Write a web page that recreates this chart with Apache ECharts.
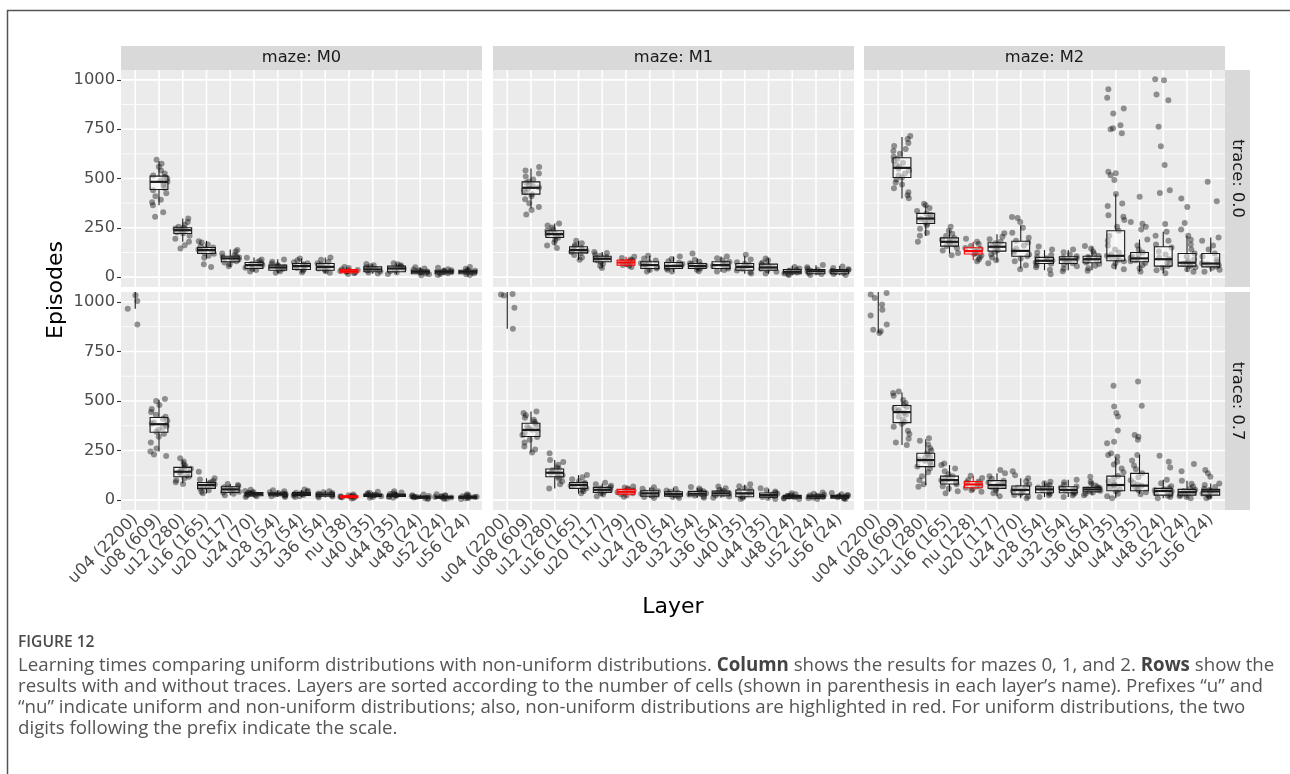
<!DOCTYPE html>
<html>
<head>
<meta charset="utf-8">
<title>Learning times by layer</title>
<script src="https://cdn.jsdelivr.net/npm/echarts@6.0.0/dist/echarts.min.js"></script>
<style>
  html, body { margin: 0; padding: 0; background: #ffffff; }
  #chart { width: 1290px; height: 774px; }
</style>
</head>
<body>
<div id="chart"></div>
<script>
// ---- category labels (layer name with number of cells) ----
const LAYERS_M0 = ['u04 (2200)', 'u08 (609)', 'u12 (280)', 'u16 (165)', 'u20 (117)', 'u24 (70)', 'u28 (54)', 'u32 (54)', 'u36 (54)', 'nu (38)', 'u40 (35)', 'u44 (35)', 'u48 (24)', 'u52 (24)', 'u56 (24)'];
const LAYERS_M1 = ['u04 (2200)', 'u08 (609)', 'u12 (280)', 'u16 (165)', 'u20 (117)', 'nu (79)', 'u24 (70)', 'u28 (54)', 'u32 (54)', 'u36 (54)', 'u40 (35)', 'u44 (35)', 'u48 (24)', 'u52 (24)', 'u56 (24)'];
const LAYERS_M2 = ['u04 (2200)', 'u08 (609)', 'u12 (280)', 'u16 (165)', 'nu (128)', 'u20 (117)', 'u24 (70)', 'u28 (54)', 'u32 (54)', 'u36 (54)', 'u40 (35)', 'u44 (35)', 'u48 (24)', 'u52 (24)', 'u56 (24)'];

const MAZES = ['M0', 'M1', 'M2'];
const TRACES = ['0.0', '0.7'];

// ---- y scale ----
const Y_TICKS = [0, 250, 500, 750, 1000];
const Y_MINOR = [125, 375, 625, 875];
const Y_LIMITS = [-50, 1050];

// ---- box statistics per layer: [lower whisker, Q1, median, Q3, upper whisker] ----
const BOX_M0_T00 = [null, [365, 444, 483, 512, 588], [179, 221, 238, 250, 297], [95, 120, 137, 150, 184], [52, 78, 95, 106, 140], [27, 44, 61, 74, 99], [20, 35, 49, 61, 91], [22, 39, 56, 69, 95], [20, 35, 52, 69, 99], [17, 22, 30, 39, 52], [17, 27, 39, 52, 65], [15, 27, 44, 56, 69], [10, 17, 27, 35, 50], [10, 17, 27, 35, 48], [10, 17, 27, 35, 52]];
const BOX_M1_T00 = [null, [348, 421, 453, 483, 551], [162, 201, 218, 235, 272], [86, 123, 137, 154, 184], [44, 78, 93, 106, 128], [52, 61, 74, 86, 103], [27, 44, 61, 78, 108], [27, 44, 57, 74, 104], [30, 44, 56, 69, 95], [27, 44, 61, 78, 104], [17, 35, 52, 69, 108], [17, 35, 49, 66, 95], [10, 17, 27, 39, 56], [10, 17, 30, 39, 60], [10, 17, 30, 39, 56]];
const BOX_M2_T00 = [null, [399, 505, 554, 605, 711], [208, 272, 297, 323, 365], [120, 157, 179, 199, 241], [86, 117, 132, 149, 179], [78, 132, 154, 174, 218], [44, 106, 133, 182, 263], [35, 69, 83, 100, 137], [35, 69, 90, 103, 137], [35, 73, 91, 106, 154], [39, 83, 108, 235, 421], [27, 78, 95, 125, 191], [20, 56, 91, 154, 230], [27, 56, 73, 120, 210], [27, 52, 69, 120, 201]];
const BOX_M0_T07 = [[965, 1100, 1250, 1450, 1700], [245, 342, 383, 417, 506], [84, 118, 143, 165, 202], [34, 59, 76, 89, 110], [25, 39, 54, 67, 81], [15, 22, 30, 38, 50], [15, 22, 30, 37, 48], [15, 23, 30, 38, 50], [13, 20, 28, 36, 47], [8, 12, 17, 22, 28], [12, 19, 25, 31, 42], [12, 19, 25, 31, 42], [6, 10, 15, 20, 28], [6, 10, 15, 19, 27], [6, 10, 15, 20, 28]];
const BOX_M1_T07 = [[864, 1080, 1220, 1400, 1650], [240, 321, 354, 388, 447], [59, 118, 138, 157, 202], [34, 59, 76, 89, 126], [20, 39, 52, 64, 84], [17, 30, 42, 54, 67], [10, 20, 34, 47, 64], [10, 20, 30, 42, 60], [12, 22, 32, 44, 62], [12, 22, 34, 45, 64], [6, 17, 34, 51, 78], [6, 15, 25, 36, 55], [5, 10, 17, 24, 35], [5, 10, 18, 25, 38], [5, 10, 17, 24, 36]];
const BOX_M2_T07 = [[843, 1070, 1200, 1380, 1600], [278, 391, 444, 477, 543], [76, 169, 202, 236, 307], [42, 81, 101, 121, 177], [42, 62, 79, 93, 123], [20, 59, 76, 98, 135], [9, 30, 51, 71, 110], [15, 37, 54, 67, 93], [15, 37, 51, 67, 103], [25, 42, 54, 64, 93], [9, 47, 76, 121, 219], [30, 47, 73, 135, 228], [9, 25, 46, 59, 103], [9, 25, 40, 54, 98], [9, 25, 44, 54, 84]];

// ---- individual runs (episodes to learn) per layer, within the visible range ----
const PTS_M0_T00 = [
  [],
  [306, 329, 365, 380, 392, 410, 425, 440, 452, 465, 475, 483, 490, 500, 508, 515, 525, 540, 560, 575, 595],
  [145, 162, 180, 195, 210, 222, 228, 235, 238, 242, 246, 250, 256, 265, 280, 297],
  [52, 65, 98, 108, 118, 124, 130, 136, 140, 145, 150, 156, 165, 175, 182],
  [55, 65, 74, 80, 86, 90, 95, 99, 102, 106, 112, 120, 130, 138],
  [28, 36, 42, 48, 54, 58, 62, 66, 70, 75, 82, 90, 98],
  [22, 30, 36, 42, 46, 50, 53, 57, 62, 68, 78, 90],
  [24, 32, 40, 46, 52, 56, 60, 65, 70, 76, 85, 94],
  [22, 30, 37, 44, 50, 54, 58, 64, 70, 78, 88, 99],
  [16, 20, 24, 27, 29, 31, 33, 36, 40, 46, 52],
  [18, 24, 29, 34, 38, 41, 45, 50, 55, 60, 66],
  [16, 24, 30, 36, 42, 46, 50, 55, 60, 65, 70],
  [10, 15, 19, 23, 26, 28, 31, 34, 38, 44, 50],
  [11, 16, 20, 24, 27, 29, 32, 35, 40, 47],
  [11, 15, 20, 24, 27, 30, 33, 36, 42, 52]
];
const PTS_M1_T00 = [
  [],
  [318, 340, 356, 375, 395, 410, 420, 430, 440, 448, 455, 462, 470, 478, 485, 495, 510, 525, 540, 558],
  [148, 160, 175, 190, 200, 207, 213, 218, 222, 228, 235, 242, 252, 262, 272],
  [88, 100, 112, 122, 128, 133, 137, 142, 148, 155, 162, 172, 184],
  [46, 58, 68, 77, 84, 89, 93, 97, 102, 108, 115, 122, 128],
  [52, 58, 62, 66, 70, 74, 77, 80, 85, 90, 97, 103],
  [28, 36, 44, 50, 56, 61, 66, 71, 77, 84, 95, 108],
  [28, 38, 44, 50, 54, 58, 62, 67, 73, 80, 92, 104],
  [30, 38, 44, 50, 54, 58, 62, 66, 70, 78, 88, 120],
  [28, 36, 44, 51, 57, 61, 66, 71, 77, 85, 96, 104],
  [18, 26, 34, 42, 48, 52, 56, 62, 68, 76, 90, 113],
  [18, 27, 35, 42, 46, 50, 54, 60, 66, 74, 85, 95],
  [11, 15, 19, 23, 27, 30, 34, 38, 44, 52],
  [11, 16, 21, 26, 30, 33, 37, 42, 50, 62],
  [11, 16, 21, 25, 29, 32, 36, 40, 46, 54]
];
const PTS_M2_T00 = [
  [],
  [400, 415, 430, 450, 470, 480, 495, 505, 515, 525, 540, 550, 560, 570, 580, 590, 600, 610, 625, 640, 650, 665, 680, 700, 716],
  [180, 210, 225, 245, 262, 272, 280, 288, 295, 300, 308, 316, 323, 335, 350, 365, 372],
  [111, 122, 135, 148, 158, 165, 172, 178, 184, 190, 198, 208, 220, 235, 255],
  [80, 90, 100, 110, 117, 122, 128, 132, 136, 142, 148, 158, 168, 180, 195],
  [70, 85, 100, 115, 128, 136, 145, 152, 158, 165, 172, 180, 192, 205, 222],
  [40, 60, 80, 95, 106, 115, 125, 133, 145, 160, 175, 185, 200, 225, 250, 280, 300, 305],
  [15, 38, 50, 60, 68, 74, 79, 84, 90, 96, 102, 112, 125, 140, 155],
  [30, 42, 55, 64, 70, 78, 85, 90, 95, 100, 106, 115, 126, 140],
  [32, 45, 58, 67, 74, 82, 88, 92, 97, 102, 108, 118, 130, 145, 158],
  [40, 55, 70, 80, 88, 95, 102, 108, 115, 125, 140, 160, 185, 210, 235, 255, 290, 306, 314, 360, 373, 421, 492, 517, 527, 534, 730, 750, 755, 770, 829, 855, 909, 953],
  [27, 45, 60, 72, 80, 86, 92, 98, 105, 115, 125, 140, 160, 191, 241, 255, 270, 280, 407],
  [20, 35, 48, 56, 65, 75, 85, 92, 100, 115, 130, 150, 165, 185, 210, 230, 269, 427, 441, 568, 664, 762, 897, 926, 998, 1003],
  [27, 40, 50, 57, 63, 68, 73, 80, 90, 105, 120, 140, 165, 190, 210, 241, 274, 356, 399],
  [27, 38, 48, 54, 60, 65, 70, 78, 90, 105, 120, 140, 160, 185, 201, 385, 483]
];
const PTS_M0_T07 = [
  [886, 965, 1004, 1034],
  [223, 230, 245, 260, 290, 320, 335, 345, 355, 365, 372, 380, 386, 392, 400, 410, 420, 430, 445, 460, 480, 500, 510],
  [81, 90, 100, 110, 118, 125, 132, 140, 146, 152, 158, 165, 172, 182, 195, 211],
  [34, 42, 50, 58, 64, 70, 75, 80, 85, 90, 96, 104, 110, 143],
  [25, 32, 38, 42, 47, 52, 56, 60, 65, 70, 76, 81],
  [15, 19, 23, 26, 29, 31, 34, 37, 41, 46, 52],
  [15, 19, 22, 25, 28, 31, 33, 36, 40, 45, 50],
  [15, 19, 23, 26, 29, 31, 34, 37, 42, 47, 53],
  [13, 18, 21, 25, 28, 30, 33, 36, 40, 45],
  [8, 11, 13, 15, 17, 18, 20, 22, 25, 28],
  [12, 16, 19, 22, 25, 27, 30, 33, 37, 42],
  [12, 16, 19, 22, 25, 28, 31, 34, 38, 44],
  [6, 9, 11, 13, 15, 17, 19, 21, 24, 28],
  [6, 8, 11, 13, 15, 17, 19, 22, 25, 29],
  [6, 9, 11, 13, 15, 17, 19, 22, 25, 30]
];
const PTS_M1_T07 = [
  [864, 970, 1032, 1037, 1040],
  [240, 255, 270, 290, 305, 318, 328, 338, 348, 355, 362, 370, 378, 386, 395, 405, 415, 428, 440, 447],
  [59, 80, 95, 108, 118, 125, 132, 138, 144, 150, 157, 165, 178, 192, 202, 236],
  [34, 44, 52, 60, 66, 72, 77, 82, 88, 95, 105, 115, 126],
  [20, 28, 36, 42, 47, 51, 55, 60, 65, 72, 80, 88],
  [17, 24, 30, 35, 40, 44, 48, 53, 58, 63, 68],
  [10, 16, 22, 27, 32, 36, 40, 45, 50, 57, 65],
  [10, 16, 21, 26, 30, 33, 37, 42, 48, 56],
  [12, 18, 23, 28, 32, 35, 39, 44, 50, 58, 66],
  [12, 18, 24, 29, 33, 37, 41, 46, 52, 60, 68],
  [6, 12, 18, 24, 30, 35, 40, 46, 52, 60, 70, 80],
  [6, 11, 16, 21, 25, 28, 32, 37, 43, 50, 60],
  [5, 8, 11, 14, 17, 19, 22, 25, 29, 34],
  [5, 9, 12, 15, 18, 21, 24, 27, 32, 38],
  [5, 8, 11, 14, 17, 20, 23, 26, 30, 36]
];
const PTS_M2_T07 = [
  [843, 852, 860, 886, 931, 960, 987, 1020, 1037, 1045],
  [278, 290, 310, 334, 350, 370, 385, 395, 405, 420, 430, 440, 448, 455, 462, 470, 478, 490, 505, 526, 540, 548],
  [67, 80, 100, 120, 140, 160, 170, 180, 190, 198, 205, 212, 220, 228, 236, 250, 261, 280, 300, 312],
  [34, 45, 58, 70, 80, 88, 95, 100, 106, 112, 120, 130, 145, 160, 177, 185],
  [42, 50, 57, 62, 68, 74, 79, 84, 89, 94, 102, 112, 123],
  [20, 35, 48, 58, 65, 72, 78, 84, 90, 98, 108, 120, 135, 152],
  [9, 18, 26, 32, 40, 46, 51, 56, 62, 70, 80, 95, 110, 125, 145],
  [15, 24, 32, 38, 44, 50, 54, 58, 63, 68, 76, 85, 93],
  [15, 24, 32, 38, 44, 48, 52, 57, 62, 68, 78, 90, 103],
  [25, 32, 38, 43, 47, 51, 54, 57, 61, 66, 74, 84, 93, 118],
  [9, 20, 32, 45, 55, 65, 72, 78, 85, 95, 110, 122, 140, 160, 180, 194, 219, 228, 236, 287, 295, 351, 422, 439, 472, 577],
  [30, 40, 50, 58, 65, 72, 78, 88, 100, 115, 135, 155, 175, 200, 228, 304, 320, 329, 476, 599],
  [9, 16, 22, 28, 34, 40, 45, 50, 55, 60, 70, 85, 103, 165, 194, 224],
  [9, 15, 20, 26, 32, 37, 41, 46, 52, 58, 68, 82, 98, 145, 182],
  [9, 15, 21, 27, 33, 38, 42, 46, 51, 57, 66, 76, 84, 118, 135, 152]
];

// ---- caption ----
const FIGURE_LABEL = 'FIGURE 12';
const CAPTION_LINES = [
  'Learning times comparing uniform distributions with non-uniform distributions. {b|Column} shows the results for mazes 0, 1, and 2. {b|Rows} show the',
  'results with and without traces. Layers are sorted according to the number of cells (shown in parenthesis in each layer\u2019s name). Prefixes \u201cu\u201d and',
  '\u201cnu\u201d indicate uniform and non-uniform distributions; also, non-uniform distributions are highlighted in red. For uniform distributions, the two',
  'digits following the prefix indicate the scale.'
];

// ---- layout ----
const FONT = 'DejaVu Sans';
const CAPTION_FONT = 'Open Sans';
const CAPTION_SIZE = 18.7;
const PANEL_LEFT = [121, 493, 864];
const PANEL_W = 361;
const ROW_TOP = [70, 292];
const ROW_H = [217, 218];
const STRIP_H = 24;
const STRIP_W = 25;
const X_EXPAND = 0.6;          // discrete axis padding, in category units
const HIGHLIGHT = '#ff0000';
const INK = '#1a1a1a';

const panels = [
  { col: 0, row: 0, layers: LAYERS_M0, box: BOX_M0_T00, pts: PTS_M0_T00 },
  { col: 1, row: 0, layers: LAYERS_M1, box: BOX_M1_T00, pts: PTS_M1_T00 },
  { col: 2, row: 0, layers: LAYERS_M2, box: BOX_M2_T00, pts: PTS_M2_T00 },
  { col: 0, row: 1, layers: LAYERS_M0, box: BOX_M0_T07, pts: PTS_M0_T07 },
  { col: 1, row: 1, layers: LAYERS_M1, box: BOX_M1_T07, pts: PTS_M1_T07 },
  { col: 2, row: 1, layers: LAYERS_M2, box: BOX_M2_T07, pts: PTS_M2_T07 }
];

const yMin = Y_TICKS[0], yMax = Y_TICKS[Y_TICKS.length - 1];
const ySpan = Y_LIMITS[1] - Y_LIMITS[0];

// panel background and white grid lines, extended to the padded limits
function renderPanel(params, api, nCats) {
  const cs = params.coordSys;
  const bw = api.size([1, 0])[0];
  const pad = bw * (X_EXPAND - 0.5);
  const x0 = cs.x - pad, x1 = cs.x + cs.width + pad;
  const yTop = api.coord([0, Y_LIMITS[1]])[1];
  const yBot = api.coord([0, Y_LIMITS[0]])[1];
  const children = [{
    type: 'rect', shape: { x: x0, y: yTop, width: x1 - x0, height: yBot - yTop },
    style: { fill: '#ebebeb' }
  }];
  Y_MINOR.forEach(v => {
    const y = api.coord([0, v])[1];
    children.push({ type: 'line', shape: { x1: x0, y1: y, x2: x1, y2: y }, style: { stroke: '#ffffff', lineWidth: 0.8 } });
  });
  Y_TICKS.forEach(v => {
    const y = api.coord([0, v])[1];
    children.push({ type: 'line', shape: { x1: x0, y1: y, x2: x1, y2: y }, style: { stroke: '#ffffff', lineWidth: 1.6 } });
  });
  for (let k = 0; k < nCats; k++) {
    const x = api.coord([k, 0])[0];
    children.push({ type: 'line', shape: { x1: x, y1: yTop, x2: x, y2: yBot }, style: { stroke: '#ffffff', lineWidth: 1.6 } });
  }
  return { type: 'group', children };
}

// box + whiskers, clipped to the panel limits
function renderBox(params, api) {
  const i = api.value(0);
  const cx = api.coord([i, 0])[0];
  const half = api.size([1, 0])[0] * 0.375;
  const yAt = v => api.coord([i, v])[1];
  const top = yAt(Y_LIMITS[1]), bottom = yAt(Y_LIMITS[0]);
  const clamp = y => Math.min(bottom, Math.max(top, y));
  const lo = api.value(1), q1 = api.value(2), med = api.value(3), q3 = api.value(4), hi = api.value(5);
  const color = api.value(6) ? HIGHLIGHT : INK;
  const children = [];
  const whisker = (a, b) => {
    const y1 = clamp(yAt(a)), y2 = clamp(yAt(b));
    if (Math.abs(y1 - y2) > 0.1) {
      children.push({ type: 'line', shape: { x1: cx, y1, x2: cx, y2 }, style: { stroke: color, lineWidth: 1.1 } });
    }
  };
  whisker(q3, hi);
  whisker(lo, q1);
  const b1 = clamp(yAt(q3)), b2 = clamp(yAt(q1));
  if (b2 - b1 > 0.1) {
    children.push({ type: 'rect', shape: { x: cx - half, y: b1, width: half * 2, height: b2 - b1 },
      style: { fill: 'rgba(255,255,255,0.45)', stroke: color, lineWidth: 1.1 } });
  }
  const ym = yAt(med);
  if (ym >= top && ym <= bottom) {
    children.push({ type: 'line', shape: { x1: cx - half, y1: ym, x2: cx + half, y2: ym }, style: { stroke: color, lineWidth: 2.2 } });
  }
  return { type: 'group', children };
}

const grids = [], xAxes = [], yAxes = [], series = [];
panels.forEach((p, k) => {
  const band = PANEL_W / (p.layers.length - 1 + 2 * X_EXPAND);
  const pad = band * (X_EXPAND - 0.5);
  const H = ROW_H[p.row];
  const top = ROW_TOP[p.row] + (Y_LIMITS[1] - yMax) / ySpan * H;
  const height = (yMax - yMin) / ySpan * H;
  const bottomPad = (yMin - Y_LIMITS[0]) / ySpan * H;
  grids.push({ left: PANEL_LEFT[p.col] + pad, top: top, width: band * p.layers.length, height: height, containLabel: false });

  const isBottom = p.row === 1, isLeft = p.col === 0;
  xAxes.push({
    type: 'category', gridIndex: k, data: p.layers, boundaryGap: true,
    offset: bottomPad,
    jitter: band * 0.8, jitterOverlap: true,
    axisLine: { show: false },
    axisTick: { show: isBottom, alignWithLabel: true, interval: 0, length: 4, lineStyle: { color: '#333333', width: 1.1 } },
    axisLabel: { show: isBottom, interval: 0, rotate: 45, margin: 7, fontFamily: FONT, fontSize: 16.3, color: '#4d4d4d', hideOverlap: false },
    splitLine: { show: false }
  });
  yAxes.push({
    type: 'value', gridIndex: k, min: yMin, max: yMax, interval: Y_TICKS[1] - Y_TICKS[0],
    offset: pad,
    axisLine: { show: false },
    axisTick: { show: isLeft, length: 4, lineStyle: { color: '#333333', width: 1.1 } },
    axisLabel: { show: isLeft, margin: 6, fontFamily: FONT, fontSize: 16.3, color: '#4d4d4d', formatter: v => String(v) },
    splitLine: { show: false }
  });

  series.push({
    type: 'custom', xAxisIndex: k, yAxisIndex: k, z: 1, silent: true,
    renderItem: (params, api) => renderPanel(params, api, p.layers.length),
    data: [[0, 0]], clip: false
  });

  const pts = [];
  p.pts.forEach((vals, i) => vals.forEach(v => pts.push([i, v])));
  series.push({
    type: 'scatter', xAxisIndex: k, yAxisIndex: k, z: 2, clip: false, silent: true,
    symbolSize: 6,
    itemStyle: { color: 'rgba(0,0,0,0.5)' },
    data: pts
  });

  const boxes = [];
  p.box.forEach((b, i) => {
    if (b) boxes.push([i, b[0], b[1], b[2], b[3], b[4], p.layers[i].startsWith('nu') ? 1 : 0]);
  });
  series.push({
    type: 'custom', xAxisIndex: k, yAxisIndex: k, z: 3, silent: true, clip: false,
    renderItem: renderBox,
    encode: { x: 0, y: [1, 2, 3, 4, 5] },
    data: boxes
  });
});

// facet strips, axis titles, frame and caption
const graphic = [];
graphic.push({ type: 'rect', shape: { x: 7.5, y: 10.5, width: 1400, height: 900 }, style: { fill: 'none', stroke: '#555555', lineWidth: 1.5 }, silent: true });
MAZES.forEach((m, c) => {
  graphic.push({ type: 'rect', shape: { x: PANEL_LEFT[c], y: ROW_TOP[0] - STRIP_H, width: PANEL_W, height: STRIP_H }, style: { fill: '#d9d9d9' } });
  graphic.push({ type: 'text', x: PANEL_LEFT[c] + PANEL_W / 2, y: ROW_TOP[0] - STRIP_H / 2,
    style: { text: 'maze: ' + m, fontFamily: FONT, fontSize: 16.3, fill: INK, textAlign: 'center', textVerticalAlign: 'middle' } });
});
const stripX = PANEL_LEFT[2] + PANEL_W;
TRACES.forEach((t, r) => {
  graphic.push({ type: 'rect', shape: { x: stripX, y: ROW_TOP[r], width: STRIP_W, height: ROW_H[r] }, style: { fill: '#d9d9d9' } });
  graphic.push({ type: 'text', x: stripX + STRIP_W / 2, y: ROW_TOP[r] + ROW_H[r] / 2, rotation: -Math.PI / 2,
    style: { text: 'trace: ' + t, fontFamily: FONT, fontSize: 16.3, fill: INK, textAlign: 'center', textVerticalAlign: 'middle' } });
});
graphic.push({ type: 'text', x: 56, y: (ROW_TOP[0] + ROW_TOP[1] + ROW_H[1]) / 2, rotation: Math.PI / 2,
  style: { text: 'Episodes', fontFamily: FONT, fontSize: 22, fill: '#000000', textAlign: 'center', textVerticalAlign: 'middle' } });
graphic.push({ type: 'text', x: (PANEL_LEFT[0] + PANEL_LEFT[2] + PANEL_W) / 2, y: 607,
  style: { text: 'Layer', fontFamily: FONT, fontSize: 22, fill: '#000000', textAlign: 'center', textVerticalAlign: 'middle' } });
graphic.push({ type: 'text', x: 18, y: 643,
  style: { text: FIGURE_LABEL, fontFamily: CAPTION_FONT, fontSize: 15.6, fontWeight: 600, fill: '#4a4a4a', textVerticalAlign: 'middle' } });
CAPTION_LINES.forEach((line, j) => {
  graphic.push({ type: 'text', x: 18, y: 666 + j * 21,
    style: { text: line, fontFamily: CAPTION_FONT, fontSize: CAPTION_SIZE, fill: '#555555', textVerticalAlign: 'middle',
      rich: { b: { fontFamily: CAPTION_FONT, fontSize: CAPTION_SIZE, fontWeight: 'bold', fill: '#444444' } } } });
});

const chart = echarts.init(document.getElementById('chart'), null, { renderer: 'canvas' });
chart.setOption({
  backgroundColor: '#ffffff',
  animation: false,
  grid: grids,
  xAxis: xAxes,
  yAxis: yAxes,
  series: series,
  graphic: graphic
});
</script>
</body>
</html>
